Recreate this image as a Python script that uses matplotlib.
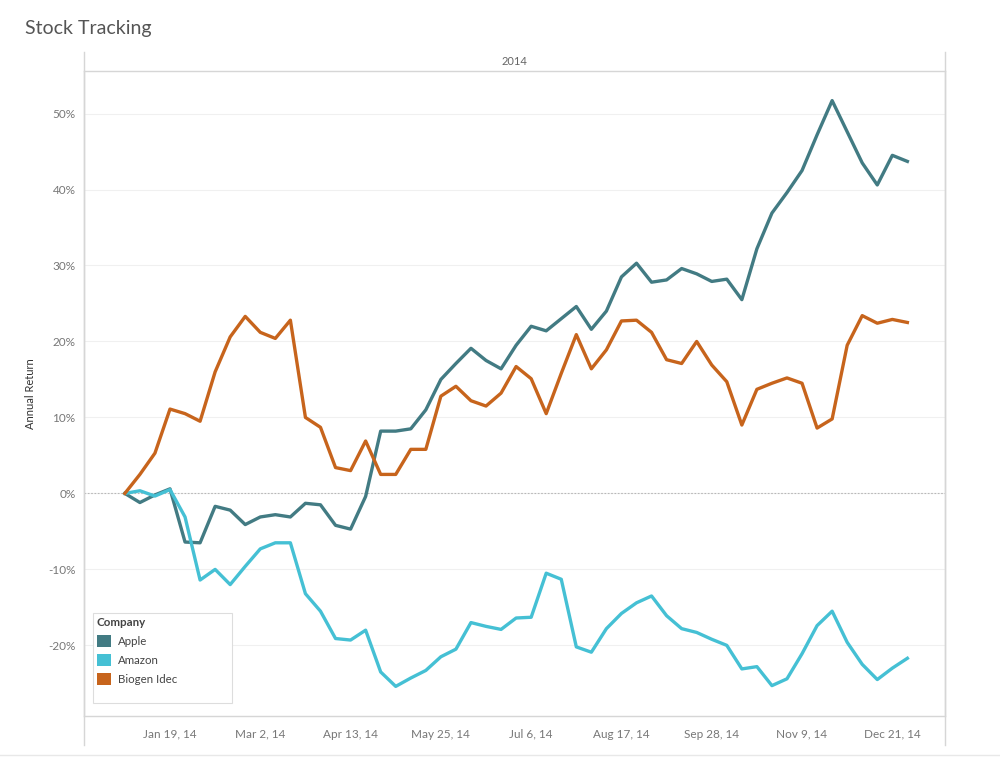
import pandas as pd
import matplotlib
matplotlib.use('Agg')
import matplotlib.pyplot as plt
import matplotlib.dates as mdates
from matplotlib.lines import Line2D
from matplotlib.patches import Patch, Rectangle
from matplotlib.ticker import FuncFormatter, MultipleLocator

plt.rcParams['font.family'] = ['Lato', 'DejaVu Sans']

# weekly returns (%), week starting Sunday Dec 29, 2013
weeks = pd.date_range('2013-12-29', periods=53, freq='7D')

apple = [0, -1.2, -0.2, 0.6, -6.4, -6.5, -1.7, -2.2, -4.1, -3.1, -2.8, -3.1, -1.3,
         -1.5, -4.2, -4.7, -0.4, 8.2, 8.2, 8.5, 11.0, 15.0, 17.1, 19.1, 17.5, 16.4,
         19.5, 22.0, 21.4, 23.0, 24.6, 21.6, 24.0, 28.5, 30.3, 27.8, 28.1, 29.6, 28.9,
         27.9, 28.2, 25.5, 32.2, 36.9, 39.6, 42.5, 47.2, 51.7, 47.6, 43.5, 40.6, 44.5, 43.7]
amazon = [0, 0.35, -0.35, 0.5, -3.1, -11.4, -10.0, -12.0, -9.6, -7.3, -6.5, -6.5, -13.2,
          -15.5, -19.1, -19.3, -18.0, -23.5, -25.4, -24.3, -23.3, -21.5, -20.5, -17.0, -17.5, -17.9,
          -16.4, -16.3, -10.5, -11.3, -20.2, -20.9, -17.8, -15.8, -14.4, -13.5, -16.1, -17.8, -18.3,
          -19.2, -20.0, -23.1, -22.8, -25.3, -24.4, -21.1, -17.4, -15.5, -19.6, -22.5, -24.5, -23.0, -21.7]
biogen = [0, 2.5, 5.3, 11.1, 10.5, 9.5, 16.0, 20.6, 23.3, 21.2, 20.4, 22.8, 10.0,
          8.7, 3.4, 3.0, 6.9, 2.5, 2.5, 5.8, 5.8, 12.8, 14.1, 12.2, 11.5, 13.2,
          16.7, 15.1, 10.5, 15.8, 20.9, 16.4, 18.9, 22.7, 22.8, 21.2, 17.6, 17.1, 20.0,
          16.9, 14.7, 9.0, 13.7, 14.5, 15.2, 14.5, 8.6, 9.8, 19.5, 23.4, 22.4, 22.9, 22.5]

companies = ['Apple', 'Amazon', 'Biogen Idec']
colors = ['#427b83', '#45c0d4', '#c7641c']
tick_dates = pd.date_range('2014-01-19', periods=9, freq='42D')

fig = plt.figure(figsize=(10, 7.75), dpi=100)
ax = fig.add_axes([0.084, 0.0761, 0.861, 0.8323])

for vals, c in zip([apple, amazon, biogen], colors):
    ax.plot(weeks, vals, color=c, lw=2.4, solid_joinstyle='round', zorder=3)

ax.set_ylim(-29.3, 55.6)
ax.set_xlim(weeks[0] - pd.Timedelta(days=19), weeks[-1] + pd.Timedelta(days=17.5))
ax.yaxis.set_major_locator(MultipleLocator(10))
ax.yaxis.set_major_formatter(FuncFormatter(lambda v, p: f'{v:.0f}%'))
ax.set_xticks(tick_dates)
ax.xaxis.set_major_formatter(FuncFormatter(
    lambda v, p: (lambda d: f'{d:%b} {d.day}, {d:%y}')(mdates.num2date(v))))

ax.grid(axis='y', color='#f0f0f0', lw=0.8)
ax.axhline(0, color='#b8b8b8', lw=0.8, ls=(0, (1.5, 1.5)), zorder=2)
ax.tick_params(length=0, labelsize=8.5, labelcolor='#777777')
ax.tick_params(axis='y', pad=6)
ax.tick_params(axis='x', pad=9)
for s in ax.spines.values():
    s.set_color('#d6d6d6')
    s.set_linewidth(1.0)

ax.set_ylabel('Annual Return', fontsize=8, color='#333333')
ax.yaxis.set_label_coords(-0.056, 0.5)

# header band and borders
fig.add_artist(Line2D([0.084, 0.084], [0.0387, 0.933], color='#d6d6d6', lw=1.0))
fig.add_artist(Line2D([0.945, 0.945], [0.0387, 0.933], color='#d6d6d6', lw=1.0))
fig.add_artist(Line2D([0.0, 1.0], [0.026, 0.026], color='#e8e8e8', lw=1.0))
fig.text(0.5145, 0.921, '2014', ha='center', va='center', fontsize=8, color='#666666')
fig.text(0.025, 0.963, 'Stock Tracking', ha='left', va='center', fontsize=14, color='#555555')

# legend box (Tableau style, with spare room)
ax.add_patch(Rectangle((0.093, 0.0929), 0.139, 0.1161, transform=fig.transFigure,
                       facecolor='white', edgecolor='#dddddd', lw=0.8, zorder=4,
                       clip_on=False))
handles = [Patch(facecolor=c, edgecolor='none') for c in colors]
leg = ax.legend(handles, companies, title='Company', loc='upper left',
                bbox_to_anchor=(0.094, 0.2075), bbox_transform=fig.transFigure,
                fontsize=8.3, title_fontsize=8.3, alignment='left', frameon=False,
                handlelength=1.2, handleheight=1.2, handletextpad=0.6,
                labelspacing=0.62, borderpad=0.25, borderaxespad=0)
leg.set_zorder(5)
leg.get_title().set_fontweight('bold')
leg.get_title().set_color('#444444')
for t in leg.get_texts():
    t.set_color('#444444')
leg._legend_box.sep = 5

fig.savefig('out.png', dpi=100, facecolor='white')
